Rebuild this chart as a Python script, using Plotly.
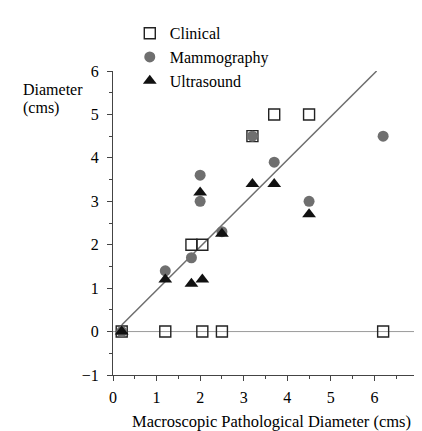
import plotly.graph_objects as go

# ---- data ----
clinical_x = [0.2, 1.2, 2.05, 2.5, 6.2, 1.8, 2.05, 3.2, 3.7, 4.5]
clinical_y = [0, 0, 0, 0, 0, 2.0, 2.0, 4.5, 5.0, 5.0]

mammo_x = [0.2, 1.2, 1.8, 2.0, 2.0, 2.5, 3.2, 3.7, 4.5, 6.2]
mammo_y = [0, 1.4, 1.7, 3.6, 3.0, 2.3, 4.5, 3.9, 3.0, 4.5]

ultra_x = [0.2, 1.2, 1.8, 2.05, 2.0, 2.5, 3.2, 3.7, 4.5]
ultra_y = [0, 1.2, 1.1, 1.2, 3.2, 2.25, 3.4, 3.4, 2.7]

fit_x = [0.2, 6.05]
fit_y = [0.15, 6.0]

zero_x = [0, 7]
zero_y = [0, 0]

x_ticks = [0, 1, 2, 3, 4, 5, 6, 7]
y_ticks = [-1, 0, 1, 2, 3, 4, 5, 6]

FONT = "Liberation Serif, Times New Roman, serif"

fig = go.Figure()

fig.add_trace(go.Scatter(x=zero_x, y=zero_y, mode="lines",
                         line=dict(color="#9a9a9a", width=1),
                         showlegend=False, hoverinfo="skip"))
fig.add_trace(go.Scatter(x=fit_x, y=fit_y, mode="lines",
                         line=dict(color="#6e6e6e", width=1.5),
                         showlegend=False, hoverinfo="skip"))

fig.add_trace(go.Scatter(x=clinical_x, y=clinical_y, mode="markers", name="Clinical",
                         marker=dict(symbol="square-open", size=11,
                                     color="#222", line=dict(width=1.4, color="#222"))))
fig.add_trace(go.Scatter(x=mammo_x, y=mammo_y, mode="markers", name="Mammography",
                         marker=dict(symbol="circle", size=11, color="#6f6f6f",
                                     line=dict(width=0))))
fig.add_trace(go.Scatter(x=ultra_x, y=ultra_y, mode="markers", name="Ultrasound",
                         marker=dict(symbol="triangle-up", size=12, color="#111",
                                     line=dict(width=0))))

axis_common = dict(showgrid=False, zeroline=False, showline=True,
                   linecolor="#444", linewidth=1, ticks="outside",
                   ticklen=5, tickwidth=1, tickcolor="#444",
                   tickfont=dict(family=FONT, size=16, color="#000"))

fig.update_xaxes(range=[0, 7], tickvals=x_ticks, ticklabelstandoff=3, **axis_common,
                 minor=dict(dtick=0.5, ticklen=3, ticks="outside", tickcolor="#444"))
fig.update_yaxes(range=[-1, 6], tickvals=y_ticks, ticklabelstandoff=5, **axis_common,
                 minor=dict(dtick=0.5, ticklen=3, ticks="outside", tickcolor="#444"))

PW = 422 - 105 - 8
fig.add_annotation(text="Diameter", xref="paper", yref="paper",
                   x=-93 / PW, y=(367 - 73.5) / 312, xanchor="left", yanchor="middle",
                   showarrow=False, font=dict(family=FONT, size=16, color="#000"))
fig.add_annotation(text="(cms)", xref="paper", yref="paper",
                   x=-93 / PW, y=(367 - 92.5) / 312, xanchor="left", yanchor="middle",
                   showarrow=False, font=dict(family=FONT, size=16, color="#000"))
fig.add_annotation(text="Macroscopic Pathological Diameter (cms)", xref="paper", yref="paper",
                   x=(266 - 105) / PW, y=(367 - 415) / 312, xanchor="center", yanchor="middle",
                   showarrow=False, font=dict(family=FONT, size=16.5, color="#000"))

fig.update_layout(
    width=422, height=431,
    margin=dict(l=105, r=8, t=55, b=64),
    paper_bgcolor="white", plot_bgcolor="white",
    showlegend=True,
    legend=dict(x=0.055, y=1.18, xanchor="left", yanchor="top",
                font=dict(family=FONT, size=16, color="#000"),
                bgcolor="rgba(0,0,0,0)", borderwidth=0, tracegroupgap=0),
)

fig.write_html("out.html")
